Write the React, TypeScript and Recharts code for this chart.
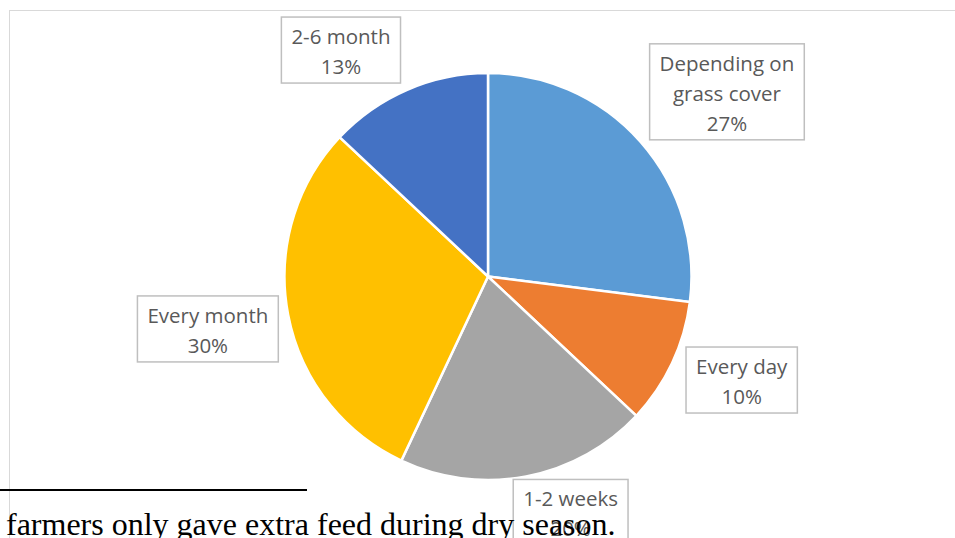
import React from 'react';
import { PieChart, Pie, Cell } from 'recharts';

// feeding frequency shares (%), clockwise from 12 o'clock
const categories = ['Depending on grass cover', 'Every day', '1-2 weeks', 'Every month', '2-6 month'];
const shares = [27, 10, 20, 30, 13];
const sliceColors = ['#5B9BD5', '#ED7D31', '#A5A5A5', '#FFC000', '#4472C4'];

// how far out each callout sits, and how much it is turned off the slice middle (deg)
const labelPlacement = [
  { dist: 302, turn: -3.7 },
  { dist: 274, turn: 3.0 },
  { dist: 250, turn: 8.5 },
  { dist: 285, turn: -0.2 },
  { dist: 270, turn: 9.6 },
];

const footnote = 'farmers only gave extra feed during dry season.';

const LABEL_FONT = '20.5px "Open Sans"';
const LINE_H = 30;
const WRAP_AT = 140;

const chartData = categories.map((name, i) => ({ name, value: shares[i] }));

let measureCtx: CanvasRenderingContext2D | null = null;
function textWidth(s: string) {
  if (!measureCtx) {
    measureCtx = document.createElement('canvas').getContext('2d');
  }
  if (!measureCtx) return s.length * 10;
  measureCtx.font = LABEL_FONT;
  return measureCtx.measureText(s).width;
}

// greedy word wrap, like the spreadsheet callouts
function wrap(s: string) {
  const words = s.split(' ');
  const lines: string[] = [];
  let cur = '';
  for (const w of words) {
    const next = cur ? cur + ' ' + w : w;
    if (cur && textWidth(next) > WRAP_AT) {
      lines.push(cur);
      cur = w;
    } else {
      cur = next;
    }
  }
  if (cur) lines.push(cur);
  return lines;
}

const RAD = Math.PI / 180;

function renderCallout(props: any) {
  const { cx, cy, midAngle, index, name, value } = props;
  const place = labelPlacement[index];
  const ang = (midAngle + place.turn) * RAD;
  const x = cx + place.dist * Math.cos(ang);
  const y = cy - place.dist * Math.sin(ang);

  const lines = [...wrap(name), `${value}%`];
  const w = Math.max(...lines.map(textWidth)) + 20;
  const h = 36 + LINE_H * (lines.length - 1);
  const top = y - h / 2;

  return (
    <g key={`callout-${index}`}>
      <rect x={x - w / 2} y={top} width={w} height={h} fill="#fff" stroke="#bfbfbf" strokeWidth={1.5} />
      {lines.map((ln, k) => (
        <text
          key={k}
          x={x}
          y={top + 27 + k * LINE_H}
          textAnchor="middle"
          fill="#595959"
          style={{ font: LABEL_FONT }}
        >
          {ln}
        </text>
      ))}
    </g>
  );
}

export default function App() {
  return (
    <div
      style={{
        position: 'fixed',
        left: 0,
        top: 0,
        width: 955,
        height: 538,
        overflow: 'hidden',
        background: '#fff',
      }}
    >
      {/* chart area frame */}
      <div
        style={{
          position: 'absolute',
          left: 9,
          top: 10,
          width: 1000,
          height: 600,
          borderTop: '1px solid #d9d9d9',
          borderLeft: '1px solid #d9d9d9',
        }}
      />
      <div style={{ position: 'absolute', left: 0, top: 0 }}>
        <PieChart width={955} height={538} margin={{ top: 0, right: 0, bottom: 0, left: 0 }}>
          <Pie
            data={chartData}
            dataKey="value"
            nameKey="name"
            cx={488}
            cy={276.5}
            outerRadius={203.5}
            startAngle={90}
            endAngle={-270}
            stroke="#fff"
            strokeWidth={2.5}
            label={renderCallout}
            labelLine={false}
            isAnimationActive={false}
          >
            {chartData.map((d, i) => (
              <Cell key={d.name} fill={sliceColors[i]} />
            ))}
          </Pie>
        </PieChart>
      </div>
      {/* footnote rule and running text below the figure */}
      <svg
        width={955}
        height={538}
        style={{ position: 'absolute', left: 0, top: 0, pointerEvents: 'none' }}
      >
        <line x1={0} y1={490} x2={307} y2={490} stroke="#000" strokeWidth={2} />
        <text x={6} y={535} fill="#000" style={{ font: '32px "Liberation Serif"' }}>
          {footnote}
        </text>
      </svg>
    </div>
  );
}
